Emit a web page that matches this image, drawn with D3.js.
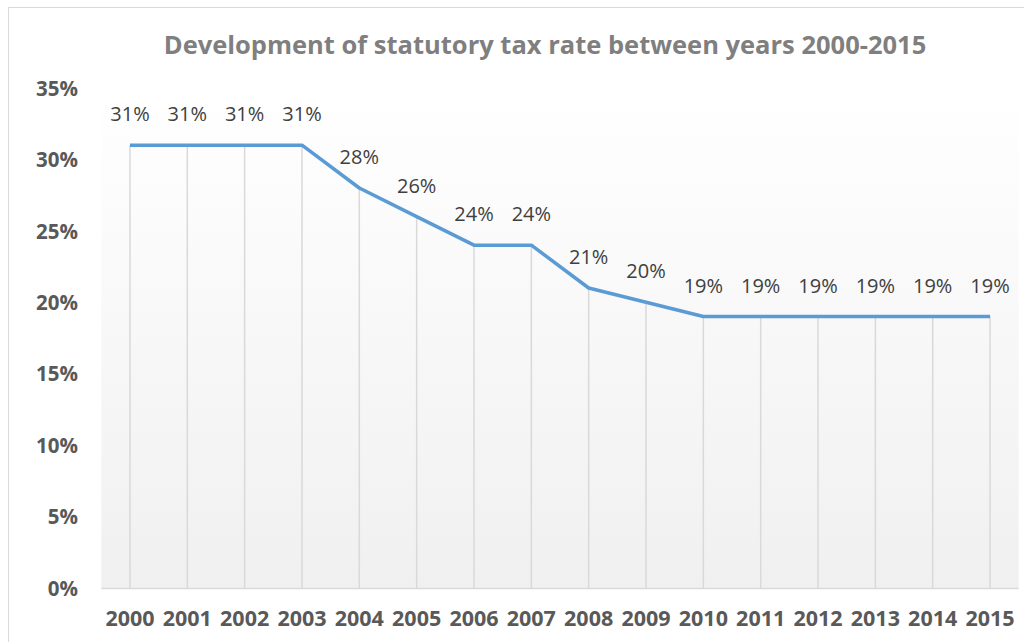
<!DOCTYPE html>
<html>
<head>
<meta charset="utf-8">
<script src="https://cdn.jsdelivr.net/npm/d3@7"></script>
<style>
  html, body { margin: 0; padding: 0; background: #fff; }
  svg { display: block; font-family: "Open Sans", sans-serif; }
</style>
</head>
<body>
<svg id="chart" width="1024" height="642"></svg>
<script>
const years = ["2000","2001","2002","2003","2004","2005","2006","2007","2008","2009","2010","2011","2012","2013","2014","2015"];
const rates = [31,31,31,31,28,26,24,24,21,20,19,19,19,19,19,19];
const yTicks = [0,5,10,15,20,25,30,35];
const title = "Development of statutory tax rate between years 2000-2015";

const svg = d3.select("#chart");
const W = 1024, H = 642;
const plot = { left: 101.3, right: 1018.7, top: 88, bottom: 588 };

// outer border
svg.append("rect").attr("x", 8.5).attr("y", 7.5).attr("width", W + 20).attr("height", H + 20)
  .attr("fill", "#fff").attr("stroke", "#d9d9d9").attr("stroke-width", 1);

// gradient plot background
const defs = svg.append("defs");
const grad = defs.append("linearGradient").attr("id", "bg").attr("x1", 0).attr("y1", 0).attr("x2", 0).attr("y2", 1);
grad.append("stop").attr("offset", "0%").attr("stop-color", "#ffffff");
grad.append("stop").attr("offset", "100%").attr("stop-color", "#f0f0f0");

const x = d3.scaleBand().domain(years).range([plot.left, plot.right]).padding(0);
const y = d3.scaleLinear().domain([0, 35]).range([plot.bottom, plot.top]);
const cx = d => x(d) + x.bandwidth() / 2;

svg.append("rect").attr("x", plot.left).attr("y", plot.top)
  .attr("width", plot.right - plot.left).attr("height", plot.bottom - plot.top)
  .attr("fill", "url(#bg)");

// title
svg.append("text").attr("x", 545).attr("y", 54).attr("text-anchor", "middle")
  .attr("font-size", 25.5).attr("font-weight", "bold").attr("fill", "#7f7f7f").text(title);

// y axis
const yAxis = d3.axisLeft(y).tickValues(yTicks).tickFormat(d => d + "%").tickSize(0).tickPadding(0);
const yg = svg.append("g").attr("transform", `translate(78,0)`).call(yAxis);
yg.select(".domain").remove();
yg.selectAll("text").attr("font-size", 20.5).attr("font-weight", "bold").attr("fill", "#595959")
  .attr("font-family", "Open Sans, sans-serif").attr("dy", "0.35em");

// baseline
svg.append("line").attr("x1", plot.left).attr("x2", plot.right).attr("y1", y(0) + 0.5).attr("y2", y(0) + 0.5)
  .attr("stroke", "#d9d9d9").attr("stroke-width", 1.5);

// x axis labels
const xAxis = d3.axisBottom(x).tickSize(0).tickPadding(0);
const xg = svg.append("g").attr("transform", `translate(0,${plot.bottom + 30})`).call(xAxis);
xg.select(".domain").remove();
xg.selectAll("text").attr("font-size", 21.5).attr("font-weight", "bold").attr("fill", "#595959")
  .attr("font-family", "Open Sans, sans-serif").attr("dy", "0.35em");

const data = years.map((yr, i) => ({ yr, v: rates[i] }));

// drop lines
svg.append("g").selectAll("line").data(data).join("line")
  .attr("x1", d => cx(d.yr)).attr("x2", d => cx(d.yr))
  .attr("y1", d => y(d.v)).attr("y2", y(0))
  .attr("stroke", "#d9d9d9").attr("stroke-width", 1.5);

// line
svg.append("path").datum(data)
  .attr("d", d3.line().x(d => cx(d.yr)).y(d => y(d.v)))
  .attr("fill", "none").attr("stroke", "#5b9bd5").attr("stroke-width", 3.5).attr("stroke-linejoin", "round");

// data labels
svg.append("g").selectAll("text").data(data).join("text")
  .attr("x", d => cx(d.yr)).attr("y", d => y(d.v) - 31).attr("dy", "0.35em")
  .attr("text-anchor", "middle").attr("font-size", 20).attr("fill", "#404040")
  .text(d => d.v + "%");
</script>
</body>
</html>
